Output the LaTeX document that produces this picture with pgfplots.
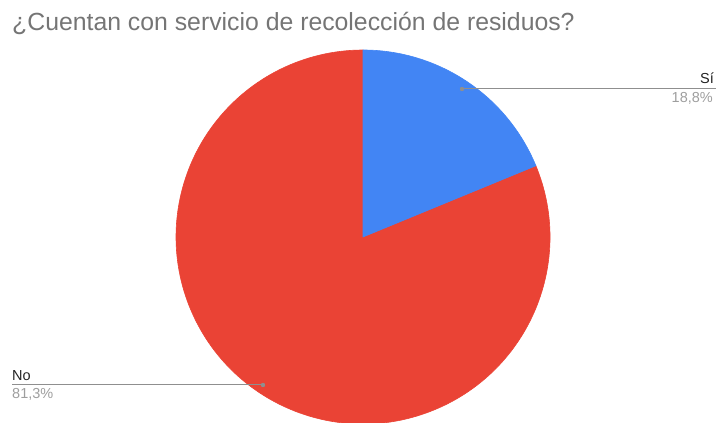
\documentclass[border=0pt]{standalone}
\usepackage{pgfplots}
\pgfplotsset{compat=1.18}
\usepackage{pgfplotstable}
\usetikzlibrary{calc}
\usepackage{fontspec}
\setmainfont{Liberation Sans}
\definecolor{pieblue}{HTML}{4285F4}
\definecolor{piered}{HTML}{EA4335}
\definecolor{titlegray}{HTML}{757575}
\definecolor{pctgray}{HTML}{9E9E9E}
\definecolor{linegray}{HTML}{8F8F8F}
\definecolor{labeldark}{HTML}{222222}
\pgfplotstableread{
idx value
0 18.8
1 81.3
}\piedata
\begin{document}
\begin{tikzpicture}
\pgfplotstablegetelem{0}{value}\of\piedata \let\valA\pgfplotsretval
\pgfplotstablegetelem{1}{value}\of\piedata \let\valB\pgfplotsretval
\pgfmathsetmacro\total{\valA+\valB}
\pgfmathsetmacro\angA{90-\valA/\total*360}
\pgfmathsetmacro\angB{\angA-\valB/\total*360}
\begin{axis}[
  at={(0,0)}, anchor=south west,
  scale only axis, width=716pt, height=423pt,
  xmin=0, xmax=716, ymin=0, ymax=423,
  hide axis, clip=false,
]
\coordinate (ll) at (axis cs:0,0);
\coordinate (ur) at (axis cs:716,423);
% pie slices
\filldraw[piered, line width=0.6pt, line join=round] (axis cs:363,186) -- ($(axis cs:363,186)+(\angA:187pt)$) arc[start angle=\angA, end angle=\angB, radius=187pt] -- cycle;
\filldraw[pieblue, line width=0.6pt, line join=round] (axis cs:363,186) -- (axis cs:363,373) arc[start angle=90, end angle=\angA, radius=187pt] -- cycle;
% title
\node[anchor=base west, inner sep=0pt, text=titlegray, font=\fontsize{24.8}{28}\selectfont] at (axis cs:12,392) {¿Cuentan con servicio de recolección de residuos?};
% Si label
\draw[linegray, line width=1pt] (axis cs:462,334) -- (axis cs:716,334);
\fill[linegray] (axis cs:462,334) circle[radius=2.2pt];
\node[anchor=base east, inner sep=0pt, text=labeldark, font=\fontsize{14.5}{16}\selectfont] at (axis cs:714,339) {Sí};
\node[anchor=base east, inner sep=0pt, text=pctgray, font=\fontsize{14.5}{16}\selectfont] at (axis cs:713,320.5) {18,8\%};
% No label
\draw[linegray, line width=1pt] (axis cs:12,38) -- (axis cs:263,38);
\fill[linegray] (axis cs:263,38) circle[radius=2.2pt];
\node[anchor=base west, inner sep=0pt, text=labeldark, font=\fontsize{14.5}{16}\selectfont] at (axis cs:12,42) {No};
\node[anchor=base west, inner sep=0pt, text=pctgray, font=\fontsize{14.5}{16}\selectfont] at (axis cs:12,24) {81,3\%};
\end{axis}
\pgfresetboundingbox
\path (ll) rectangle (ur);
\end{tikzpicture}
\end{document}
